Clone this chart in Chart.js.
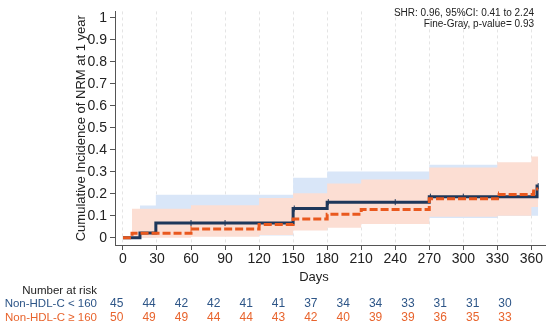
<!DOCTYPE html>
<html>
<head>
<meta charset="utf-8">
<script src="https://cdn.jsdelivr.net/npm/chart.js@4"></script>
<style>
  body { margin: 0; background: #fff; }
  canvas { display: block; }
</style>
</head>
<body>
<canvas id="cif" width="550" height="328"></canvas>
<script>
// x ticks / risk table columns
const tickDays = [0, 30, 60, 90, 120, 150, 180, 210, 240, 270, 300, 330, 360];
const riskLow = [45, 44, 42, 42, 41, 41, 37, 34, 34, 33, 31, 31, 30];
const riskHigh = [50, 49, 49, 44, 44, 43, 42, 40, 39, 39, 36, 35, 33];

// Non-HDL-C < 160 (step curve)
const lowDays = [0, 15, 29, 150, 180, 270, 365, 366];
const lowCif = [0, 0.022, 0.067, 0.133, 0.162, 0.187, 0.235, 0.235];
const lowCiDays = [15, 29, 150, 180, 270, 330, 360, 366];
const lowCiUpper = [0.147, 0.196, 0.273, 0.302, 0.332, 0.335, 0.335, 0.335];
const lowCiLower = [0, 0.01, 0.05, 0.07, 0.09, 0.1, 0.1, 0.1];
const lowCensorDays = [60, 90, 151, 181, 240, 271, 300, 331, 366];
const lowCensorCif = [0.067, 0.067, 0.133, 0.162, 0.162, 0.187, 0.187, 0.187, 0.235];

// Non-HDL-C >= 160
const highDays = [0, 8, 60, 120, 150, 180, 210, 270, 330, 362, 366];
const highCif = [0, 0.02, 0.04, 0.06, 0.085, 0.107, 0.129, 0.177, 0.197, 0.222, 0.222];
const highCiDays = [8, 60, 120, 150, 180, 210, 270, 330, 360, 366];
const highCiUpper = [0.132, 0.148, 0.181, 0.203, 0.247, 0.265, 0.32, 0.343, 0.37, 0.37];
const highCiLower = [0, 0.005, 0.012, 0.033, 0.045, 0.063, 0.095, 0.1, 0.14, 0.14];
const highCensorDays = [60, 331, 361];
const highCensorCif = [0.04, 0.197, 0.197];

const yTicks = [0, 0.1, 0.2, 0.3, 0.4, 0.5, 0.6, 0.7, 0.8, 0.9, 1];

const NAVY = 'rgb(30,55,90)';
const ORANGE = 'rgb(233,88,30)';
const BLUE_TXT = 'rgb(45,85,135)';
const ORANGE_TXT = 'rgb(232,100,45)';
const FONT = "'Liberation Sans', Arial, sans-serif";

const pts = (xs, ys) => xs.map((x, i) => ({ x: x, y: ys[i] }));

const band = (xs, ys, fill, color) => ({
  data: pts(xs, ys),
  stepped: true,
  borderWidth: 0,
  pointRadius: 0,
  backgroundColor: color,
  fill: fill
});

const censor = (xs, ys, color) => ({
  data: pts(xs, ys),
  showLine: false,
  pointStyle: 'line',
  rotation: 90,
  pointRadius: 3,
  borderWidth: 1,
  borderColor: color
});

const textPlugin = {
  id: 'texts',
  afterDraw(chart) {
    const ctx = chart.ctx;
    ctx.save();
    ctx.textBaseline = 'middle';

    ctx.fillStyle = '#222';
    ctx.font = '13px ' + FONT;
    ctx.textAlign = 'center';
    ctx.fillText('Days', 314, 277);

    ctx.font = '10px ' + FONT;
    ctx.textAlign = 'right';
    ctx.fillText('SHR: 0.96, 95%CI: 0.41 to 2.24', 534, 13);
    ctx.fillText('Fine-Gray, p-value= 0.93', 534, 24);

    // number at risk table
    ctx.font = '11.5px ' + FONT;
    ctx.fillStyle = '#222';
    ctx.fillText('Number at risk', 97, 291);
    ctx.fillStyle = BLUE_TXT;
    ctx.fillText('Non-HDL-C < 160', 97, 304);
    ctx.fillStyle = ORANGE_TXT;
    ctx.fillText('Non-HDL-C \u2265 160', 97, 318);

    ctx.font = '12px ' + FONT;
    ctx.textAlign = 'center';
    tickDays.forEach((d, i) => {
      const x = 116.7 + d * (388.3 / 360);
      ctx.fillStyle = BLUE_TXT;
      ctx.fillText(String(riskLow[i]), x, 304);
      ctx.fillStyle = ORANGE_TXT;
      ctx.fillText(String(riskHigh[i]), x, 318);
    });
    ctx.restore();
  }
};

new Chart(document.getElementById('cif'), {
  type: 'line',
  data: {
    datasets: [
      {
        data: pts(highDays, highCif),
        stepped: true,
        borderColor: ORANGE,
        borderWidth: 3,
        borderDash: [8, 3],
        pointRadius: 0,
        fill: false
      },
      {
        data: pts(lowDays, lowCif),
        stepped: true,
        borderColor: NAVY,
        borderWidth: 3,
        pointRadius: 0,
        fill: false
      },
      censor(highCensorDays, highCensorCif, ORANGE),
      censor(lowCensorDays, lowCensorCif, NAVY),
      band(highCiDays, highCiUpper, '+1', 'rgb(252,222,211)'),
      band(highCiDays, highCiLower, false, 'rgb(252,222,211)'),
      band(lowCiDays, lowCiUpper, '+1', 'rgb(217,230,248)'),
      band(lowCiDays, lowCiLower, false, 'rgb(217,230,248)')
    ]
  },
  options: {
    responsive: false,
    animation: false,
    devicePixelRatio: 1,
    layout: { padding: { left: 0, top: 5, right: 5, bottom: 0 } },
    plugins: {
      legend: { display: false },
      tooltip: { enabled: false }
    },
    scales: {
      x: {
        type: 'linear',
        min: -7,
        max: 372,
        afterBuildTicks: (s) => { s.ticks = tickDays.map(v => ({ value: v })); },
        afterFit: (s) => { s.height = 83; },
        ticks: {
          color: '#222',
          font: { size: 14, family: FONT },
          padding: 1,
          maxRotation: 0,
          callback: (v) => String(v)
        },
        grid: {
          color: '#e4e4e4',
          tickColor: '#555',
          tickLength: 5,
          tickBorderDash: []
        },
        border: { color: '#555', dash: [3, 3] }
      },
      y: {
        min: -0.033,
        max: 1.03,
        afterBuildTicks: (s) => { s.ticks = yTicks.map(v => ({ value: v })); },
        afterFit: (s) => { s.width = 115; },
        ticks: {
          color: '#222',
          font: { size: 14, family: FONT },
          padding: 3,
          callback: (v) => String(Number(v.toFixed(1)))
        },
        grid: {
          drawOnChartArea: false,
          tickColor: '#555',
          tickLength: 5
        },
        border: { color: '#555' },
        title: {
          display: true,
          text: 'Cumulative Incidence of NRM at 1 year',
          color: '#222',
          font: { size: 13, family: FONT },
          padding: { top: 74, bottom: 0 }
        }
      }
    }
  },
  plugins: [textPlugin]
});
</script>
</body>
</html>
